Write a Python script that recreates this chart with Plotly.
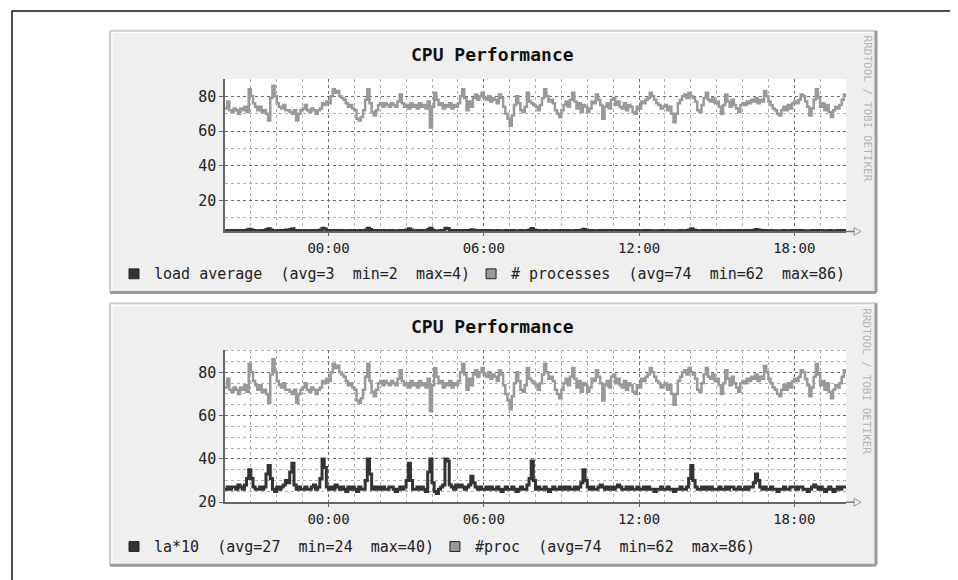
import pandas as pd
import plotly.graph_objects as go

W, H = 958, 580

# 5-minute samples, 20:00 -> 20:00 next day (one row per hour)
proc = [
    73, 77, 72, 71, 73, 72, 70, 73, 72, 74, 71, 84,
    80, 76, 74, 72, 74, 71, 72, 70, 66, 79, 86, 80,
    76, 74, 73, 75, 72, 72, 71, 70, 72, 66, 70, 72,
    73, 75, 72, 71, 73, 72, 70, 72, 73, 76, 75, 77,
    76, 80, 84, 82, 83, 80, 79, 78, 76, 74, 75, 73,
    72, 67, 66, 68, 72, 78, 84, 76, 71, 69, 72, 75,
    76, 74, 76, 75, 74, 76, 75, 74, 77, 81, 76, 74,
    75, 73, 76, 74, 75, 73, 76, 74, 75, 73, 77, 62,
    74, 82, 78, 75, 76, 73, 75, 74, 76, 73, 75, 74,
    76, 80, 84, 79, 72, 77, 74, 79, 81, 78, 80, 82,
    79, 78, 80, 77, 79, 78, 76, 81, 79, 74, 70, 67,
    63, 69, 75, 80, 76, 72, 71, 74, 82, 77, 76, 75,
    74, 72, 75, 79, 84, 80, 77, 78, 76, 72, 70, 68,
    72, 75, 77, 74, 78, 82, 77, 73, 76, 71, 75, 74,
    71, 73, 77, 76, 81, 78, 75, 67, 74, 76, 73, 78,
    79, 75, 77, 74, 73, 76, 72, 75, 74, 71, 70, 74,
    73, 77, 76, 78, 79, 82, 80, 78, 76, 75, 73, 74,
    75, 72, 74, 70, 65, 70, 76, 78, 80, 81, 79, 82,
    80, 79, 77, 72, 71, 75, 79, 82, 78, 77, 79, 76,
    77, 74, 70, 75, 81, 77, 74, 78, 75, 73, 71, 75,
    76, 75, 77, 76, 78, 77, 79, 76, 78, 77, 83, 80,
    77, 75, 73, 72, 70, 69, 72, 74, 72, 75, 73, 76,
    77, 76, 78, 81, 80, 77, 74, 69, 73, 78, 84, 79,
    74, 76, 72, 75, 71, 68, 72, 74, 73, 75, 78, 81,
    80,
]

la_x10 = [
    26, 27, 26, 27, 27, 26, 28, 27, 26, 28, 31, 35,
    31, 27, 26, 26, 27, 26, 27, 33, 37, 31, 26, 25,
    27, 26, 27, 28, 30, 29, 34, 38, 28, 26, 27, 26,
    26, 27, 26, 26, 27, 28, 26, 27, 31, 40, 36, 27,
    26, 27, 26, 28, 27, 26, 27, 26, 25, 27, 26, 27,
    26, 25, 27, 26, 26, 30, 40, 33, 26, 27, 26, 27,
    26, 27, 26, 26, 27, 27, 26, 25, 26, 27, 26, 27,
    30, 38, 30, 26, 26, 27, 26, 27, 26, 25, 34, 40,
    29, 25, 24, 26, 27, 28, 40, 39, 28, 27, 26, 28,
    27, 28, 27, 26, 27, 28, 32, 29, 27, 26, 27, 26,
    26, 27, 26, 27, 26, 26, 27, 26, 25, 26, 27, 26,
    26, 27, 26, 25, 26, 27, 26, 26, 28, 31, 39, 30,
    26, 27, 26, 26, 27, 26, 25, 26, 27, 26, 26, 27,
    26, 27, 26, 27, 26, 26, 27, 26, 27, 29, 35, 30,
    27, 26, 27, 26, 26, 27, 28, 27, 26, 27, 26, 27,
    26, 27, 28, 27, 26, 26, 27, 26, 27, 26, 26, 27,
    26, 26, 27, 26, 27, 26, 26, 25, 26, 26, 27, 26,
    26, 27, 26, 26, 25, 26, 26, 27, 26, 26, 27, 31,
    37, 30, 27, 26, 26, 27, 26, 27, 26, 27, 26, 26,
    26, 27, 26, 26, 27, 26, 27, 27, 26, 26, 27, 26,
    26, 27, 26, 27, 27, 29, 33, 30, 27, 26, 27, 26,
    26, 27, 26, 26, 25, 26, 26, 27, 26, 26, 27, 27,
    27, 26, 27, 27, 26, 26, 25, 26, 27, 28, 27, 26,
    27, 26, 25, 26, 27, 26, 25, 26, 27, 26, 27, 27,
    27,
]
load_avg = [v / 10 for v in la_x10]

times = pd.date_range("2000-01-01 20:00", periods=len(proc), freq="5min")
x_range = ["2000-01-01 20:00", "2000-01-02 20:00"]

title = "CPU Performance"
credit = "RRDTOOL / TOBI OETIKER"
legend_top = [("load average  (avg=3  min=2  max=4)", "#333333"),
              ("# processes  (avg=74  min=62  max=86)", "#999999")]
legend_bottom = [("la*10  (avg=27  min=24  max=40)", "#333333"),
                 ("#proc  (avg=74  min=62  max=86)", "#999999")]

MONO = "DejaVu Sans Mono"
CHAR_W = 9.03


def px(x):
    return x / W


def py(y):
    return 1 - y / H


fig = go.Figure()
fig.add_trace(go.Scatter(x=times, y=proc, xaxis="x", yaxis="y", mode="lines",
                         line=dict(color="#999999", width=2.5, shape="hv")))
fig.add_trace(go.Scatter(x=times, y=load_avg, xaxis="x", yaxis="y", mode="lines",
                         line=dict(color="#333333", width=3, shape="hv")))
fig.add_trace(go.Scatter(x=times, y=proc, xaxis="x2", yaxis="y2", mode="lines",
                         line=dict(color="#999999", width=2.5, shape="hv")))
fig.add_trace(go.Scatter(x=times, y=la_x10, xaxis="x2", yaxis="y2", mode="lines",
                         line=dict(color="#333333", width=3, shape="hv")))

shapes = []
annotations = []

# outer frame (only left and top edges fall inside the picture)
shapes.append(dict(type="rect", xref="paper", yref="paper", x0=px(4), x1=px(990),
                   y0=py(3), y1=py(600), line=dict(color="#111111", width=1.5),
                   layer="below"))

panels = [
    dict(top=23, bottom=289, plot_top=72, plot_bottom=227, legend=legend_top),
    dict(top=300, bottom=566, plot_top=347, plot_bottom=502, legend=legend_bottom),
]
for p in panels:
    x0, x1, y0, y1 = 102, 868, p["top"], p["bottom"]
    shapes.append(dict(type="rect", xref="paper", yref="paper", x0=px(x0), x1=px(x1),
                       y0=py(y0), y1=py(y1), fillcolor="#efefef", line=dict(width=0),
                       layer="below"))
    for (ax, ay, bx, by, col, w) in [
        (x0, y0, x1, y0, "#cfcfcf", 2), (x0, y0, x0, y1, "#cfcfcf", 2),
        (x0 + 2, y0 + 2, x1 - 2, y0 + 2, "#ffffff", 1), (x0 + 2, y0 + 2, x0 + 2, y1 - 2, "#ffffff", 1),
        (x1, y0, x1, y1, "#9a9a9a", 3), (x0, y1, x1, y1, "#9a9a9a", 3)]:
        shapes.append(dict(type="line", xref="paper", yref="paper", x0=px(ax), x1=px(bx),
                           y0=py(ay), y1=py(by), line=dict(color=col, width=w), layer="below"))
    # white plot area
    shapes.append(dict(type="rect", xref="paper", yref="paper", x0=px(217), x1=px(838),
                       y0=py(p["plot_top"]), y1=py(p["plot_bottom"]), fillcolor="#ffffff",
                       line=dict(width=0), layer="below"))
    # x axis arrow
    yb = p["plot_bottom"]
    shapes.append(dict(type="line", xref="paper", yref="paper", x0=px(838), x1=px(847),
                       y0=py(yb), y1=py(yb), line=dict(color="#777777", width=1.5)))
    shapes.append(dict(type="path", xref="paper", yref="paper",
                       path=f"M {px(846)} {py(yb - 4)} L {px(853)} {py(yb)} L {px(846)} {py(yb + 4)} Z",
                       line=dict(color="#999999", width=1)))
    # title and credit
    annotations.append(dict(text="<b>" + title + "</b>", x=px(485), y=py(y0 + 24),
                            xref="paper", yref="paper",
                            showarrow=False, xanchor="center", yanchor="middle",
                            font=dict(family=MONO, size=18, color="#111111")))
    annotations.append(dict(text=credit, x=px(859), y=py(y0 + 3), xref="paper", yref="paper",
                            showarrow=False, xanchor="center", yanchor="top", textangle=90,
                            font=dict(family=MONO, size=11, color="#b4b4b4")))
    # legend
    ly = y0 + 247
    lx = 121
    for text, col in p["legend"]:
        shapes.append(dict(type="rect", xref="paper", yref="paper", x0=px(lx), x1=px(lx + 10),
                           y0=py(ly - 5), y1=py(ly + 5), fillcolor=col,
                           line=dict(color="#222222", width=1)))
        annotations.append(dict(text=text.replace("  ", "\u00a0\u00a0"), x=px(lx + 23), y=py(ly),
                                xref="paper", yref="paper", showarrow=False,
                                xanchor="left", yanchor="middle",
                                font=dict(family=MONO, size=15, color="#222222")))
        lx = lx + 23 + len(text) * CHAR_W + 18

xdom = [px(217), px(838)]
xaxis_common = dict(
    type="date", range=x_range, domain=xdom, tickformat="%H:%M",
    tick0="2000-01-02 00:00", dtick=6 * 3600000,
    showgrid=True, gridcolor="#6a6a6a", griddash="dot", gridwidth=1,
    minor=dict(dtick=3600000, tick0="2000-01-02 00:00", showgrid=True,
               gridcolor="#b0b0b0", griddash="dot", gridwidth=1),
    showline=True, linecolor="#666666", linewidth=1.5,
    ticks="outside", ticklen=3, tickcolor="#666666",
    tickfont=dict(family=MONO, size=14, color="#222222"),
    zeroline=False, fixedrange=True,
)
yaxis_common = dict(
    tick0=0, dtick=20,
    showgrid=True, gridcolor="#6a6a6a", griddash="dot", gridwidth=1,
    showline=True, linecolor="#666666", linewidth=1.5,
    ticks="outside", ticklen=4, tickcolor="#666666",
    tickfont=dict(family=MONO, size=15, color="#222222"),
    zeroline=False, fixedrange=True,
)

fig.update_layout(
    width=W, height=H,
    margin=dict(l=0, r=0, t=0, b=0),
    paper_bgcolor="#ffffff", plot_bgcolor="#ffffff",
    showlegend=False,
    xaxis=dict(xaxis_common, anchor="y"),
    xaxis2=dict(xaxis_common, anchor="y2"),
    yaxis=dict(yaxis_common, anchor="x", range=[2.2, 90],
               domain=[py(227), py(72)],
               minor=dict(dtick=10, tick0=0, showgrid=True, gridcolor="#b0b0b0",
                          griddash="dot", gridwidth=1)),
    yaxis2=dict(yaxis_common, anchor="x2", range=[20, 90.5],
                domain=[py(502), py(347)],
                minor=dict(dtick=5, tick0=0, showgrid=True, gridcolor="#b0b0b0",
                           griddash="dot", gridwidth=1)),
    shapes=shapes,
    annotations=annotations,
)

fig.write_html("out.html")
